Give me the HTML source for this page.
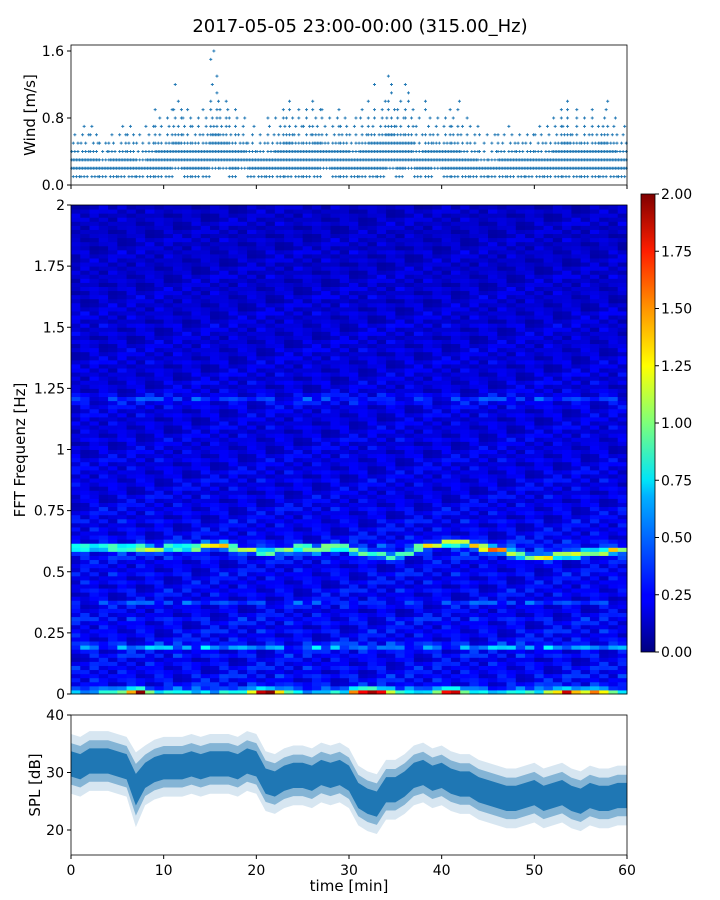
<!DOCTYPE html>
<html><head><meta charset="utf-8"><style>
body{margin:0;background:#fff;}
svg{display:block;font-family:"DejaVu Sans","Liberation Sans",sans-serif;}
</style></head><body>
<svg id="s" width="720" height="900" xmlns="http://www.w3.org/2000/svg">
<defs>
<linearGradient id="jet" x1="0" y1="1" x2="0" y2="0">
<stop offset="0" stop-color="#000080"/><stop offset="0.11" stop-color="#0000ff"/><stop offset="0.125" stop-color="#0000ff"/>
<stop offset="0.34" stop-color="#00b0ff"/><stop offset="0.375" stop-color="#00e4f8"/><stop offset="0.5" stop-color="#7dff7a"/>
<stop offset="0.625" stop-color="#ffff00"/><stop offset="0.75" stop-color="#ff9400"/><stop offset="0.875" stop-color="#ff1e00"/><stop offset="1" stop-color="#800000"/>
</linearGradient>
</defs>
<text x="360" y="32" text-anchor="middle" font-size="18">2017-05-05 23:00-00:00 (315.00_Hz)</text>
<g id="wind"></g>
<g id="spec"></g>
<g id="cbar"></g>
<g id="spl"></g>
</svg>
<script>
// ---- data ----
var xTicks=[0,10,20,30,40,50,60];
var windHi=[0.6,0.7,0.7,0.5,0.6,0.7,0.7,0.6,0.7,0.9,0.9,1.2,0.9,0.8,0.9,1.6,1.0,0.9,0.8,0.7,0.6,0.8,0.9,1.0,0.9,0.9,1.0,0.9,0.9,0.8,0.8,0.9,1.2,1.0,1.4,1.0,1.2,0.8,1.0,0.8,0.9,1.0,0.8,0.7,0.6,0.6,0.6,0.7,0.6,0.6,0.7,0.7,0.9,1.2,0.9,0.8,0.9,1.0,0.8,0.7];
var windLo=[0.1,0.1,0.1,0.1,0.1,0.1,0.1,0.1,0.1,0.1,0.1,0.2,0.1,0.1,0.1,0.2,0.2,0.1,0.2,0.1,0.1,0.1,0.1,0.1,0.1,0.1,0.1,0.2,0.1,0.1,0.1,0.1,0.1,0.1,0.2,0.1,0.2,0.1,0.1,0.2,0.1,0.1,0.1,0.1,0.1,0.1,0.1,0.1,0.1,0.1,0.1,0.1,0.1,0.1,0.1,0.1,0.1,0.1,0.1,0.1];
var windTyp=[0.3,0.3,0.3,0.2,0.3,0.3,0.3,0.2,0.3,0.4,0.4,0.5,0.4,0.4,0.4,0.6,0.5,0.4,0.4,0.3,0.3,0.3,0.4,0.5,0.4,0.4,0.5,0.4,0.4,0.4,0.3,0.4,0.5,0.5,0.6,0.5,0.5,0.3,0.4,0.4,0.4,0.4,0.3,0.3,0.2,0.2,0.3,0.3,0.3,0.3,0.3,0.3,0.4,0.5,0.4,0.4,0.4,0.5,0.4,0.3];
var windTicks=[0.0,0.8,1.6];
var specTicks=[0,0.25,0.5,0.75,1,1.25,1.5,1.75,2];
var specTickLabels=["0","0.25","0.5","0.75","1","1.25","1.5","1.75","2"];
var rowBase=[0.36,0.30,0.27,0.25,0.27,0.23,0.26,0.24,0.22,0.27,0.25,0.50,0.30,0.24,0.23,0.26,0.22,0.25,0.27,0.23,0.21,0.24,0.34,0.22,0.23,0.25,0.21,0.24,0.22,0.25,0.23,0.21,0.24,0.26,0.28,0.30,0.32,0.26,0.24,0.22,0.23,0.21,0.24,0.20,0.22,0.23,0.21,0.20,0.22,0.19,0.21,0.20,0.22,0.19,0.21,0.20,0.19,0.21,0.20,0.19,0.20,0.18,0.21,0.19,0.18,0.20,0.19,0.18,0.20,0.19,0.21,0.24,0.32,0.23,0.19,0.18,0.20,0.17,0.19,0.18,0.17,0.19,0.18,0.17,0.19,0.17,0.18,0.16,0.18,0.17,0.19,0.16,0.17,0.18,0.16,0.17,0.15,0.18,0.16,0.17,0.15,0.16,0.17,0.15,0.16,0.14,0.16,0.15,0.17,0.14,0.15,0.16,0.14,0.15,0.14,0.16,0.15,0.14,0.15,0.14];
var ridgeF=[0.60,0.60,0.60,0.60,0.60,0.60,0.60,0.60,0.59,0.59,0.60,0.60,0.60,0.60,0.61,0.61,0.61,0.60,0.59,0.59,0.58,0.58,0.59,0.59,0.60,0.60,0.59,0.60,0.60,0.60,0.59,0.58,0.57,0.57,0.56,0.57,0.58,0.60,0.61,0.61,0.62,0.62,0.62,0.61,0.60,0.59,0.59,0.58,0.57,0.56,0.56,0.56,0.57,0.57,0.57,0.58,0.58,0.58,0.59,0.59];
var ridgeAmp=[0.6,0.8,0.7,0.7,0.8,0.9,0.9,1.0,0.8,0.7,0.7,0.8,0.8,0.9,1.0,1.0,1.1,0.9,0.8,0.9,0.8,0.7,0.8,0.9,0.8,0.9,0.8,0.9,0.9,0.8,0.7,0.8,0.7,0.7,0.6,0.7,0.8,0.9,1.0,0.9,1.0,1.1,1.2,1.2,1.3,1.2,1.1,1.0,0.9,0.8,0.9,1.0,1.1,1.1,1.0,0.9,1.0,1.1,1.0,0.9];
var lowAmp=[0.3,0.3,0.3,0.4,0.5,0.8,1.2,1.5,0.7,0.3,0.3,0.3,0.3,0.3,0.3,0.3,0.3,0.4,0.5,0.8,1.4,1.6,1.0,0.5,0.3,0.3,0.4,0.3,0.3,0.4,1.0,1.5,1.6,1.4,0.9,0.5,0.4,0.3,0.5,0.8,1.3,1.5,0.8,0.5,0.3,0.3,0.3,0.3,0.3,0.4,0.4,0.7,1.1,1.3,1.0,0.9,1.1,0.8,0.6,0.4];
var texture=[1.0,0.55,1.35,0.85,1.15,0.5,1.5,0.7,1.0,1.25,0.6,1.05,0.9,1.4,0.5,1.2,0.8,1.0,1.3,0.6,0.95,1.15,0.7,1.35,0.85,0.5,1.25,1.0,0.75,1.5,0.6,1.05,0.95,1.2,0.7,1.3,0.85];
var cbarTicks=[0,0.25,0.5,0.75,1,1.25,1.5,1.75,2];
var splMean=[31.5,31,32,32,32,31.5,31,27,29.5,30.5,31,31,31,31.5,31,31.5,31.5,31.5,31,32,31.5,28.5,28,29,29.5,29.5,29,30,29.5,30,29,26,25,24.5,27,27,28,29.5,30,29,29.5,28.5,28,28,27,26.5,26,25.5,25.5,26,26.5,25.5,26,26.5,25.5,25,26,25.5,25.5,26,26];
var splSpread=[4,4,4,4,4,4,4,5,4,4,4,4,4,4,4,4,4,4,4,4,4,4,4,4,4,4,4,4,4,4,4,4,4,4,4,4,4,4,4,4,4,4,4,4,4,4,4,4,4,4,4,4,4,4,4,4,4,4,4,4,4];
var splTicks=[20,30,40];

var NS="http://www.w3.org/2000/svg";
function mk(parent,tag,attrs){var e=document.createElementNS(NS,tag);for(var k in attrs)e.setAttribute(k,attrs[k]);parent.appendChild(e);return e;}
var X0=71,X1=627;
function xs(t){return X0+(t/60)*(X1-X0);}
// wind
function wy(v){return 185-v*(185-51)/1.6;}
var gw=document.getElementById('wind');
var POS=6;
for(var m=0;m<60;m++){
  var lo=Math.round(windLo[m]*10),hi=Math.round(windHi[m]*10),ty=Math.round(windTyp[m]*10);
  for(var L=lo;L<=hi;L++){
    var step=L<=ty?(L===lo?2:1):(L-ty+1);
    for(var k=0;k<POS;k++){
      if((k+L+m)%step!==0)continue;
      var wx=xs(m+(k+0.5)/POS),wyy=wy(L/10);
      var p=mk(gw,'path',{d:'M'+(wx-1.5)+' '+wyy+'h3M'+wx+' '+(wyy-1.5)+'v3',stroke:'#1f77b4','stroke-width':'0.9'});
      
      
    }
  }
}
var wr=mk(gw,'rect',{x:X0,y:45,width:X1-X0,height:140,fill:'none',stroke:'#000','stroke-width':'0.8'});

windTicks.forEach(function(v){
  mk(gw,'line',{x1:X0-4,x2:X0,y1:wy(v),y2:wy(v),stroke:'#000'});
  var t=mk(gw,'text',{x:X0-7,y:wy(v)+5,'text-anchor':'end','font-size':'14'});t.textContent=v.toFixed(1);
  
});
xTicks.forEach(function(v){mk(gw,'line',{x1:xs(v),x2:xs(v),y1:185,y2:189,stroke:'#000'});});
var wl=mk(gw,'text',{x:0,y:0,'text-anchor':'middle','font-size':'15',transform:'translate(35,115) rotate(-90)'});wl.textContent='Wind [m/s]';


// spectrogram
function jet(v){var x=Math.max(0,Math.min(1,v/2));function c(a){return Math.round(255*Math.max(0,Math.min(1,1.5-Math.abs(4*x-a))));}return 'rgb('+c(3)+','+c(2)+','+c(1)+')';}
var SY0=205,SY1=694;
function sy(f){return SY1-f/2*(SY1-SY0);}
var gs=document.getElementById('spec');
var NR=rowBase.length,NC=ridgeF.length;
for(var c=0;c<NC;c++){
  for(var r=0;r<NR;r++){
    var f0=r*2/NR,f1=(r+1)*2/NR,fc=(f0+f1)/2;
    var v=rowBase[r]*texture[(r*11+c*5)%texture.length];
    var d=(fc-ridgeF[c])/0.012;v+=ridgeAmp[c]*Math.exp(-d*d);
    if(r===0)v+=lowAmp[c];else if(r===1)v+=lowAmp[c]*0.3;
    var rc=mk(gs,'rect',{x:xs(c),y:sy(f1),width:xs(c+1)-xs(c)+0.5,height:sy(f0)-sy(f1)+0.5,fill:jet(v)});
    
    
  }
}
mk(gs,'rect',{x:X0,y:SY0,width:X1-X0,height:SY1-SY0,fill:'none',stroke:'#000','stroke-width':'0.8'});
specTicks.forEach(function(v,i){
  mk(gs,'line',{x1:X0-4,x2:X0,y1:sy(v),y2:sy(v),stroke:'#000'});
  var t=mk(gs,'text',{x:X0-6,y:sy(v)+5,'text-anchor':'end','font-size':'14'});t.textContent=specTickLabels[i];
  
});
var sl=mk(gs,'text',{x:0,y:0,'text-anchor':'middle','font-size':'15',transform:'translate(25,450) rotate(-90)'});sl.textContent='FFT Frequenz [Hz]';


// colorbar
var gc=document.getElementById('cbar');
var CY0=194,CY1=652;
function cy(v){return CY1-v/2*(CY1-CY0);}
mk(gc,'rect',{x:641,y:CY0,width:14,height:CY1-CY0,fill:'url(#jet)',stroke:'#000','stroke-width':'0.8'});
cbarTicks.forEach(function(v){
  mk(gc,'line',{x1:655,x2:659,y1:cy(v),y2:cy(v),stroke:'#000'});
  var t=mk(gc,'text',{x:661,y:cy(v)+5,'font-size':'14'});t.textContent=v.toFixed(2);
  
});

// SPL
var gp=document.getElementById('spl');
var PY0=715,PY1=855;
function splY(v){return PY1-(v-15.65)/(40-15.65)*(PY1-PY0);}
function band(k,col,op,name){
  var up=[],dn=[];
  for(var i=0;i<splMean.length;i++){var x=xs(i*60/(splMean.length-1));up.push(x+','+splY(splMean[i]+splSpread[i]*k));dn.unshift(x+','+splY(splMean[i]-splSpread[i]*k));}
  var p=mk(gp,'polygon',{points:up.concat(dn).join(' '),fill:col,'fill-opacity':op});
  
}
band(1.3,'#1f77b4',0.18,'spl-outer-band');
band(0.9,'#1f77b4',0.45,'spl-mid-band');
band(0.55,'#1f77b4',1,'spl-core-band');
mk(gp,'rect',{x:X0,y:PY0,width:X1-X0,height:PY1-PY0,fill:'none',stroke:'#000','stroke-width':'0.8'});
splTicks.forEach(function(v){
  mk(gp,'line',{x1:X0-4,x2:X0,y1:splY(v),y2:splY(v),stroke:'#000'});
  var t=mk(gp,'text',{x:X0-7,y:splY(v)+5,'text-anchor':'end','font-size':'14'});t.textContent=v;
  
});
xTicks.forEach(function(v){
  mk(gp,'line',{x1:xs(v),x2:xs(v),y1:PY1,y2:PY1+4,stroke:'#000'});
  var t=mk(gp,'text',{x:xs(v),y:PY1+20,'text-anchor':'middle','font-size':'14'});t.textContent=v;
  
});
var xl=mk(gp,'text',{x:349,y:891,'text-anchor':'middle','font-size':'15'});xl.textContent='time [min]';

var pl=mk(gp,'text',{x:0,y:0,'text-anchor':'middle','font-size':'15',transform:'translate(40,785) rotate(-90)'});pl.textContent='SPL [dB]';

</script>
</body></html>
